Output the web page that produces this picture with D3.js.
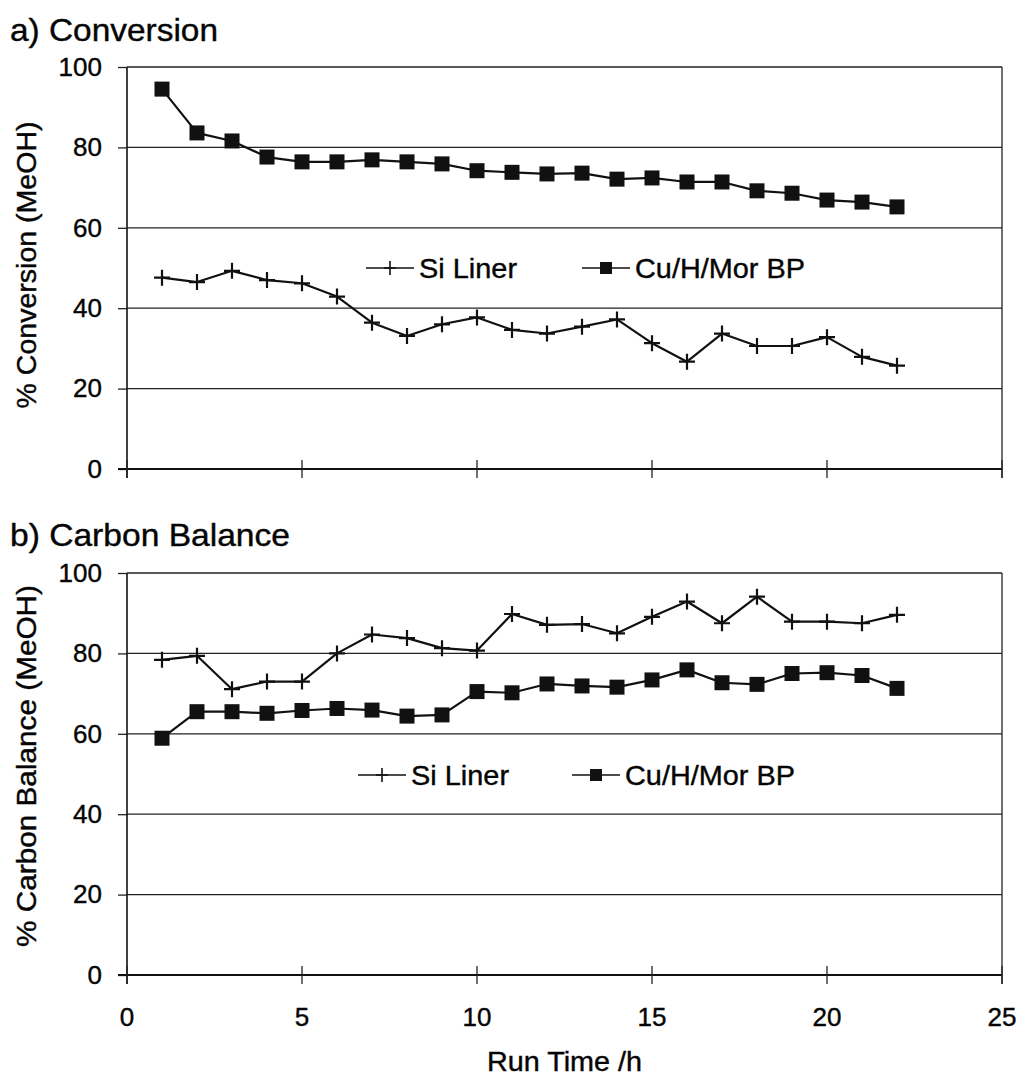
<!DOCTYPE html>
<html>
<head>
<meta charset="utf-8">
<script src="https://cdn.jsdelivr.net/npm/d3@7"></script>
<style>
  html, body { margin: 0; padding: 0; background: #fff; }
  svg text { font-family: "Liberation Sans", Arial, Helvetica, sans-serif; fill: #050505; stroke: #050505; stroke-width: 0.4px; }
</style>
</head>
<body>
<svg id="chart" width="1021" height="1078"></svg>
<script>
// Run time (h) for every sample
const runTime = [1,2,3,4,5,6,7,8,9,10,11,12,13,14,15,16,17,18,19,20,21,22];

// a) Methanol conversion (%)
const convSiLiner = [47.6,46.5,49.3,47.0,46.2,42.9,36.4,33.1,36.0,37.7,34.6,33.7,35.4,37.2,31.3,26.7,33.7,30.6,30.6,32.8,27.9,25.7];
const convCuHMor  = [94.5,83.6,81.6,77.6,76.4,76.4,76.9,76.4,75.9,74.2,73.8,73.4,73.6,72.1,72.4,71.4,71.4,69.2,68.6,66.9,66.4,65.2];

// b) Carbon balance (%)
const cbSiLiner = [78.4,79.4,71.1,73.0,73.0,80.0,84.7,83.8,81.3,80.7,89.8,87.1,87.3,85.0,89.1,92.9,87.5,94.1,87.9,87.9,87.5,89.6];
const cbCuHMor  = [58.9,65.5,65.5,65.1,65.8,66.3,65.9,64.4,64.7,70.5,70.2,72.4,71.9,71.6,73.4,75.9,72.7,72.3,75.0,75.2,74.5,71.3];

const seriesNames = ["Si Liner", "Cu/H/Mor BP"];
const xTicks = [0,5,10,15,20,25];
const yTicks = [0,20,40,60,80,100];

const svg = d3.select("#chart");
const x = d3.scaleLinear().domain([0,25]).range([127,1002]);

function panel(cfg) {
  const y = d3.scaleLinear().domain([0,100]).range([cfg.bottom, cfg.top]);
  const g = svg.append("g");

  // title
  g.append("text").attr("x", 10).attr("y", cfg.titleY)
    .attr("font-size", 32).attr("textLength", cfg.titleW).attr("lengthAdjust", "spacingAndGlyphs")
    .text(cfg.title);

  // horizontal gridlines (plus frame top)
  g.selectAll("line.grid").data(yTicks.filter(d => d > 0)).join("line")
    .attr("x1", x(0)).attr("x2", x(25))
    .attr("y1", d => y(d)).attr("y2", d => y(d))
    .attr("stroke", "#222").attr("stroke-width", 1.3);

  // right frame edge
  g.append("line").attr("x1", x(25)).attr("x2", x(25))
    .attr("y1", y(100)).attr("y2", y(0) + 9)
    .attr("stroke", "#222").attr("stroke-width", 1.3);

  // y axis
  const yAxis = d3.axisLeft(y).tickValues(yTicks).tickSize(9).tickPadding(16);
  const ya = g.append("g").attr("transform", `translate(${x(0)},0)`).call(yAxis);
  ya.select(".domain").remove();
  ya.selectAll(".tick line").attr("stroke", "#222").attr("stroke-width", 1.3);
  ya.selectAll(".tick text").attr("font-size", 26).attr("fill", "#050505")
    .attr("font-family", "Liberation Sans, Arial, sans-serif");
  g.append("line").attr("x1", x(0)).attr("x2", x(0))
    .attr("y1", y(100)).attr("y2", y(0) + 9)
    .attr("stroke", "#111").attr("stroke-width", 1.6);

  // x axis line and crossing ticks
  g.append("line").attr("x1", x(0) - 9).attr("x2", x(25))
    .attr("y1", y(0)).attr("y2", y(0))
    .attr("stroke", "#111").attr("stroke-width", 1.8);
  g.selectAll("line.xt").data(xTicks).join("line")
    .attr("x1", d => x(d)).attr("x2", d => x(d))
    .attr("y1", y(0) - 9).attr("y2", y(0) + 9)
    .attr("stroke", "#222").attr("stroke-width", 1.3);

  // y axis title
  g.append("text")
    .attr("transform", `translate(27,${cfg.yTitleC}) rotate(-90)`)
    .attr("text-anchor", "middle").attr("dominant-baseline", "central")
    .attr("font-size", 27)
    .attr("textLength", cfg.yTitleW).attr("lengthAdjust", "spacingAndGlyphs")
    .text(cfg.yTitle);

  // series
  const line = d3.line().x((d,i) => x(runTime[i])).y(d => y(d));
  [cfg.si, cfg.cu].forEach(vals => {
    g.append("path").datum(vals).attr("d", line)
      .attr("fill", "none").attr("stroke", "#111").attr("stroke-width", 2.2)
      .attr("stroke-linejoin", "round");
  });

  // plus markers (Si Liner)
  const pl = 8;
  g.selectAll("path.plus").data(cfg.si).join("path")
    .attr("d", (d,i) => {
      const cx = x(runTime[i]), cy = y(d);
      return `M${cx - pl},${cy}H${cx + pl}M${cx},${cy - pl}V${cy + pl}`;
    })
    .attr("stroke", "#111").attr("stroke-width", 2.2).attr("fill", "none");

  // square markers (Cu/H/Mor BP)
  const sq = 15;
  g.selectAll("rect.sq").data(cfg.cu).join("rect")
    .attr("x", (d,i) => x(runTime[i]) - sq/2).attr("y", d => y(d) - sq/2)
    .attr("width", sq).attr("height", sq).attr("fill", "#111");

  // legend
  const L = cfg.legend;
  const lg = g.append("g");
  // Si Liner entry
  lg.append("line").attr("x1", L.siX1).attr("x2", L.siX1 + 48).attr("y1", L.y).attr("y2", L.y)
    .attr("stroke", "#111").attr("stroke-width", 1.6);
  const sc = L.siX1 + 24;
  lg.append("path").attr("d", `M${sc - 6},${L.y}H${sc + 6}M${sc},${L.y - 7}V${L.y + 7}`)
    .attr("stroke", "#111").attr("stroke-width", 1.6);
  lg.append("text").attr("x", L.siX1 + 53).attr("y", L.y).attr("dominant-baseline", "central")
    .attr("font-size", 28).attr("textLength", 98).attr("lengthAdjust", "spacingAndGlyphs")
    .text(seriesNames[0]);
  // Cu/H/Mor BP entry
  lg.append("line").attr("x1", L.cuX1).attr("x2", L.cuX1 + 48).attr("y1", L.y).attr("y2", L.y)
    .attr("stroke", "#111").attr("stroke-width", 1.6);
  lg.append("rect").attr("x", L.cuX1 + 24 - 6).attr("y", L.y - 6).attr("width", 12).attr("height", 12)
    .attr("fill", "#111");
  lg.append("text").attr("x", L.cuX1 + 53).attr("y", L.y).attr("dominant-baseline", "central")
    .attr("font-size", 28).attr("textLength", 170).attr("lengthAdjust", "spacingAndGlyphs")
    .text(seriesNames[1]);

  return y;
}

panel({
  title: "a) Conversion", titleY: 41, titleW: 208,
  top: 67, bottom: 469,
  yTitle: "% Conversion (MeOH)", yTitleC: 265, yTitleW: 287,
  si: convSiLiner, cu: convCuHMor,
  legend: { y: 268, siX1: 366, cuX1: 582 }
});

panel({
  title: "b) Carbon Balance", titleY: 546, titleW: 280,
  top: 573, bottom: 975,
  yTitle: "% Carbon Balance (MeOH)", yTitleC: 766, yTitleW: 362,
  si: cbSiLiner, cu: cbCuHMor,
  legend: { y: 775, siX1: 358, cuX1: 572 }
});

// x tick labels and axis title under the lower panel
svg.append("g").selectAll("text").data(xTicks).join("text")
  .attr("x", d => x(d)).attr("y", 1017).attr("text-anchor", "middle")
  .attr("dominant-baseline", "central").attr("font-size", 26)
  .text(d => d);

svg.append("text").attr("x", x(12.5)).attr("y", 1062).attr("text-anchor", "middle")
  .attr("dominant-baseline", "central").attr("font-size", 27)
  .attr("textLength", 155).attr("lengthAdjust", "spacingAndGlyphs")
  .text("Run Time /h");
</script>
</body>
</html>
